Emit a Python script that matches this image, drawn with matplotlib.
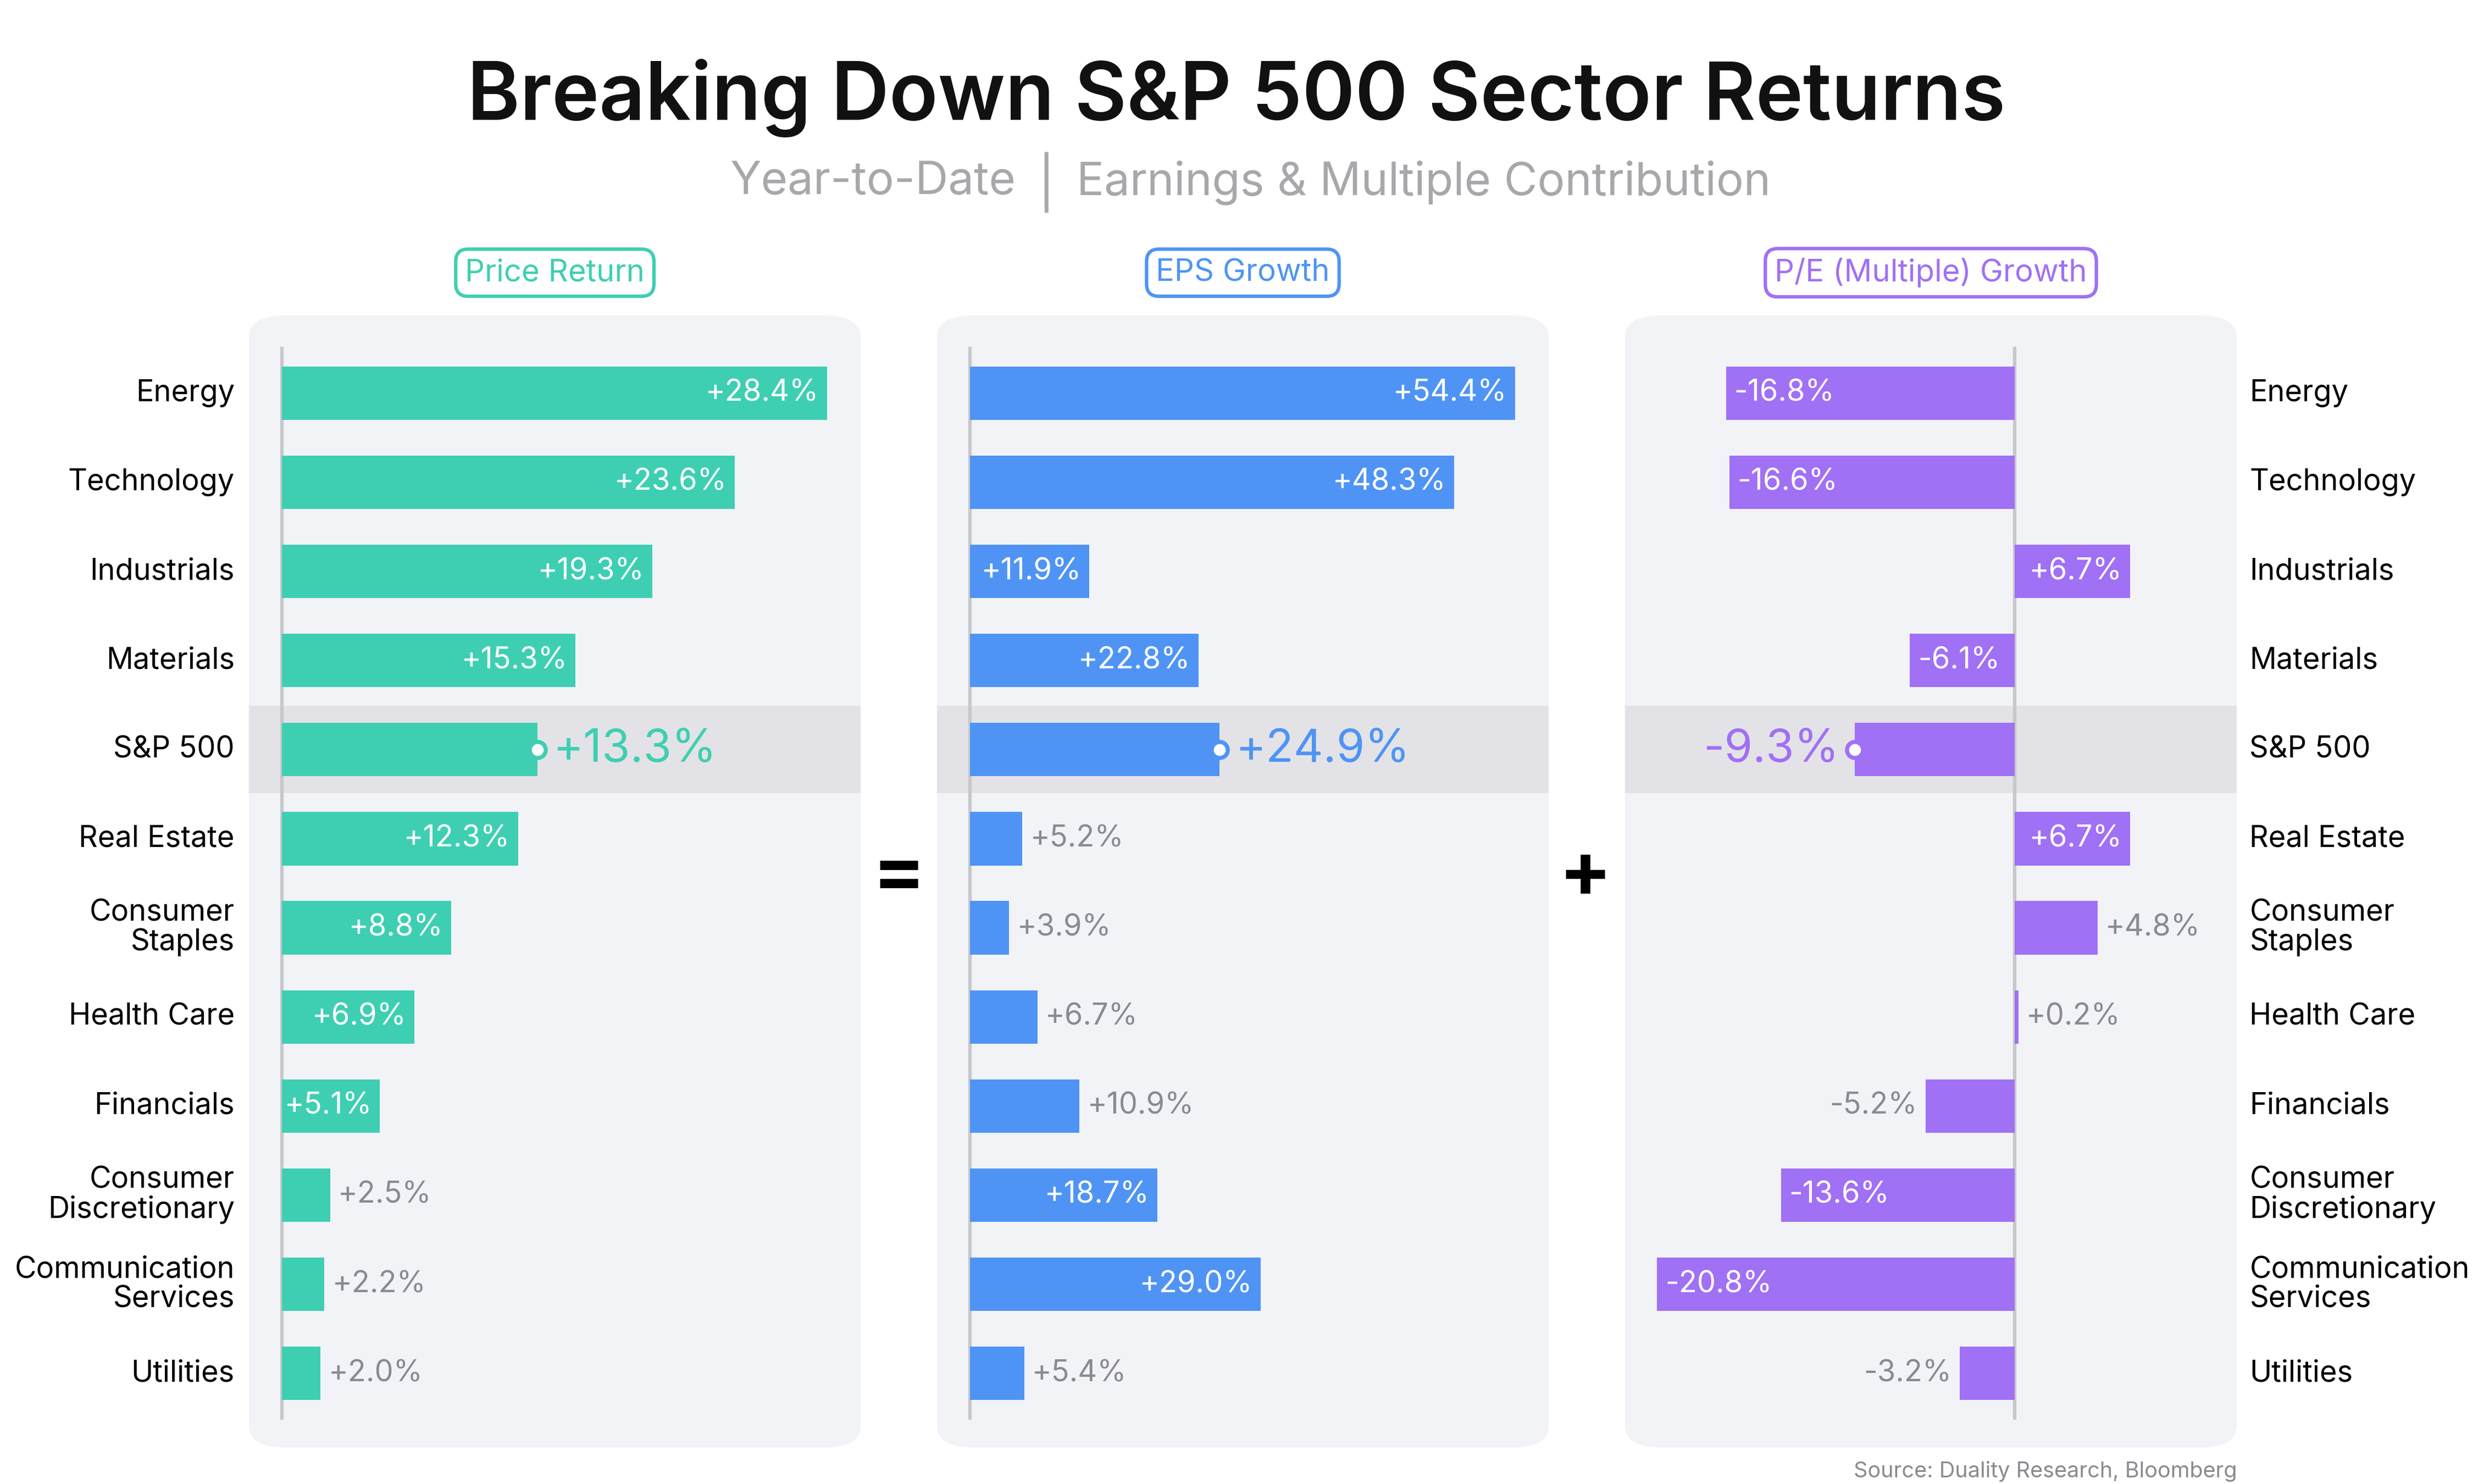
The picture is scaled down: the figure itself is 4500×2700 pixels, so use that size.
import matplotlib.pyplot as plt
from matplotlib.patches import FancyBboxPatch, Rectangle

plt.rcParams['font.family'] = ['Inter', 'DejaVu Sans']

# Дані з графіка
sectors = ["Energy", "Technology", "Industrials", "Materials", "S&P 500", "Real Estate",
           "Consumer\nStaples", "Health Care", "Financials", "Consumer\nDiscretionary",
           "Communication\nServices", "Utilities"]
price = [28.4, 23.6, 19.3, 15.3, 13.3, 12.3, 8.8, 6.9, 5.1, 2.5, 2.2, 2.0]
eps = [54.4, 48.3, 11.9, 22.8, 24.9, 5.2, 3.9, 6.7, 10.9, 18.7, 29.0, 5.4]
pe = [-16.8, -16.6, 6.7, -6.1, -9.3, 6.7, 4.8, 0.2, -5.2, -13.6, -20.8, -3.2]

W, H = 1560.0, 936.0  # координати еталону
fig = plt.figure(figsize=(15, 9), dpi=300)
fig.patch.set_facecolor("white")


def fx(x):
    return x / W


def fy(y):
    return 1 - y / H


panels = [
    # (x0, x1, zero px, px per %, data, color, header, min inside)
    (157, 543, 178, 12.1, price, "#3ecfb2", "Price Return", 4.0),
    (591, 977, 612, 6.32, eps, "#4f94f5", "EPS Growth", 11.5),
    (1025, 1411, 1271, 10.85, pe, "#a070f5", "P/E (Multiple) Growth", 5.5),
]
top, bottom = 199, 913
row0, step = 248, 56.2

for x0, x1, zero, scale, vals, color, header, min_in in panels:
    fig.patches.append(FancyBboxPatch((fx(x0), fy(bottom)), fx(x1 - x0), (bottom - top) / H,
                                      boxstyle="round,pad=0,rounding_size=0.015",
                                      transform=fig.transFigure, facecolor="#f2f3f7",
                                      edgecolor="none", zorder=-5))
    ax = fig.add_axes([fx(x0), fy(bottom), fx(x1 - x0), (bottom - top) / H], zorder=2)
    ax.set_facecolor("none")
    ax.set_xlim((x0 - zero) / scale, (x1 - zero) / scale)
    ax.set_ylim((bottom - row0) / step, (top - row0) / step)
    for s in ax.spines.values():
        s.set_visible(False)
    ax.set_xticks([])
    ax.set_yticks([])
    xl = ax.get_xlim()
    ax.add_patch(Rectangle((xl[0], 4 - 0.49), xl[1] - xl[0], 0.98, facecolor="#e3e3e7",
                           edgecolor="none", zorder=0))
    ax.plot([0, 0], [-0.5, 11.5], color="#c8c8cc", lw=1.5, zorder=1)
    ax.barh(range(len(vals)), vals, height=0.6, color=color, zorder=2)
    pad = 5 / scale
    for i, v in enumerate(vals):
        txt = f"{v:+.1f}%"
        if i == 4:
            ax.plot(v, i, "o", ms=7, mfc="white", mec=color, mew=1.8, zorder=4)
            off = 2 * pad if v > 0 else -2 * pad
            ax.text(v + off, i, txt, ha="left" if v > 0 else "right", va="center",
                    fontsize=20, color=color)
        elif abs(v) >= min_in:
            ax.text(v - pad if v > 0 else v + pad, i, txt, ha="right" if v > 0 else "left",
                    va="center", fontsize=13, color="white")
        else:
            ax.text(v + pad if v >= 0 else v - pad, i, txt, ha="left" if v >= 0 else "right",
                    va="center", fontsize=13, color="#8a8a90")
    fig.text(fx((x0 + x1) / 2), fy(172), header, ha="center", va="center", fontsize=13.5,
             color=color, bbox=dict(boxstyle="round,pad=0.3,rounding_size=0.4",
                                    facecolor="white", edgecolor=color, lw=1.5))

# Назви секторів зліва і справа
for i, s in enumerate(sectors):
    y = fy(row0 + step * i)
    fig.text(fx(148), y, s, ha="right", va="center", fontsize=13, linespacing=1.05)
    fig.text(fx(1419), y, s, ha="left", va="center", fontsize=13, linespacing=1.05)

fig.text(fx(567), fy(553), "=", ha="center", va="center", fontsize=34, fontweight="bold")
fig.text(fx(1000), fy(553), "+", ha="center", va="center", fontsize=34, fontweight="bold")

fig.text(0.5, fy(62), "Breaking Down S&P 500 Sector Returns", ha="center", va="center",
         fontsize=35, fontweight="semibold", color="#111111")
fig.text(fx(641), fy(115), "Year-to-Date", ha="right", va="center", fontsize=20, color="#a8a8ac")
fig.text(fx(660), fy(115), "|", ha="center", va="center", fontsize=22, color="#a8a8ac")
fig.text(fx(679), fy(115), "Earnings & Multiple Contribution", ha="left", va="center",
         fontsize=20, color="#a8a8ac")
fig.text(fx(1411), fy(928), "Source: Duality Research, Bloomberg", ha="right", va="center",
         fontsize=9.5, color="#8a8a90")

fig.savefig("out.png", dpi=300, facecolor="white")
